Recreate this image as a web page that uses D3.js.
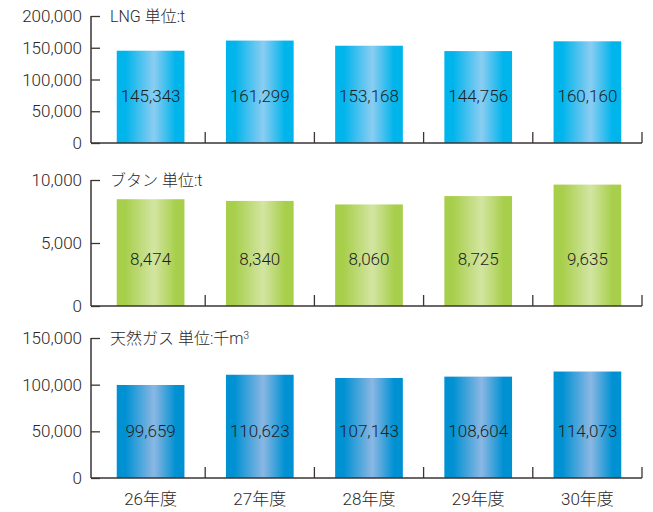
<!DOCTYPE html>
<html>
<head>
<meta charset="utf-8">
<script src="https://cdn.jsdelivr.net/npm/d3@7"></script>
<style>
  body { margin: 0; background: #fff; }
  text { font-family: Roboto, "Noto Sans CJK JP", sans-serif; fill: #2b2727; }
</style>
</head>
<body>
<svg id="chart" width="653" height="512"></svg>
<script>
var years = ["26年度", "27年度", "28年度", "29年度", "30年度"];
var lng = [145343, 161299, 153168, 144756, 160160];
var butane = [8474, 8340, 8060, 8725, 9635];
var gas = [99659, 110623, 107143, 108604, 114073];
var lngTicks = [0, 50000, 100000, 150000, 200000];
var butaneTicks = [0, 5000, 10000];
var gasTicks = [0, 50000, 100000, 150000];

var svg = d3.select("#chart"),
    left = 91, right = 642,
    fmt = d3.format(",");

// first category starts a little right of the y axis
var x = d3.scaleBand()
    .domain(years)
    .range([96, right])
    .paddingInner(0.38)
    .paddingOuter(0.19);

var step = x.step();

var defs = svg.append("defs");
function grad(id, edge, mid) {
  var g = defs.append("linearGradient").attr("id", id)
      .attr("x1", "0").attr("x2", "1").attr("y1", "0").attr("y2", "0");
  [[0, edge], [0.13, edge], [0.55, mid], [0.87, edge], [1, edge]].forEach(function(s) {
    g.append("stop").attr("offset", s[0]).attr("stop-color", s[1]);
  });
}
grad("gLng", "#00b4ec", "#8bcdf2");
grad("gBut", "#a8cf4c", "#d3e5a2");
grad("gGas", "#0091d3", "#8bb7e3");

var panels = [
  {values: lng, ticks: lngTicks, top: 16, bottom: 143, fill: "url(#gLng)", label: ["LNG 単位:t"]},
  {values: butane, ticks: butaneTicks, top: 180, bottom: 306, fill: "url(#gBut)", label: ["ブタン 単位:t"]},
  {values: gas, ticks: gasTicks, top: 338, bottom: 478, fill: "url(#gGas)", label: ["天然ガス 単位:千m", "3"]}
];

panels.forEach(function(p, pi) {
  var y = d3.scaleLinear()
      .domain([0, d3.max(p.ticks)])
      .range([p.bottom, p.top]);

  var g = svg.append("g");

  // bars
  g.selectAll(".bar")
      .data(p.values)
      .enter().append("rect")
      .attr("x", function(d, i) { return x(years[i]); })
      .attr("y", function(d) { return y(d); })
      .attr("width", x.bandwidth())
      .attr("height", function(d) { return y(0) - y(d); })
      .attr("fill", p.fill);

  g.selectAll(".val")
      .data(p.values)
      .enter().append("text")
      .attr("x", function(d, i) { return x(years[i]) + x.bandwidth() / 2; })
      .attr("y", y(0) - 47)
      .attr("dy", "0.35em")
      .attr("text-anchor", "middle")
      .style("font-size", "17px")
      .style("font-weight", 300)
      .style("fill", "#1e1e1e")
      .text(function(d) { return fmt(d); });

  // y axis
  var ya = g.append("g")
      .attr("transform", "translate(" + left + ",0)")
      .call(d3.axisRight(y).tickValues(p.ticks).tickSize(9).tickFormat(""));
  ya.select(".domain").remove();
  ya.selectAll("line").attr("stroke", "#3a3533").attr("stroke-width", 1.3);

  g.selectAll(".ylab")
      .data(p.ticks)
      .enter().append("text")
      .attr("x", left - 9)
      .attr("y", function(d) { return y(d); })
      .attr("dy", "0.36em")
      .attr("text-anchor", "end")
      .style("font-size", "17px")
      .style("font-weight", 300)
      .text(function(d) { return fmt(d); });

  g.append("line")
      .attr("x1", left).attr("x2", left)
      .attr("y1", p.top).attr("y2", p.bottom)
      .attr("stroke", "#3a3533").attr("stroke-width", 1.5);

  // x axis with separators between categories
  g.append("line")
      .attr("x1", left).attr("x2", right)
      .attr("y1", p.bottom).attr("y2", p.bottom)
      .attr("stroke", "#3a3533").attr("stroke-width", 1.5);

  g.selectAll(".sep")
      .data(years)
      .enter().append("line")
      .attr("x1", function(d) { return x(d) - step * x.paddingOuter() + step; })
      .attr("x2", function(d) { return x(d) - step * x.paddingOuter() + step; })
      .attr("y1", p.bottom)
      .attr("y2", p.bottom - 11)
      .attr("stroke", "#3a3533").attr("stroke-width", 1.3);

  // title
  var t = g.append("text")
      .attr("x", 110)
      .attr("y", p.top)
      .attr("dy", "0.36em")
      .style("font-size", "16px")
      .style("font-weight", 300)
      .text(p.label[0]);
  if (p.label[1]) {
    t.append("tspan")
        .attr("dy", "-0.5em")
        .style("font-size", "10px")
        .text(p.label[1]);
  }

  if (pi === 2) {
    g.selectAll(".xlab")
        .data(years)
        .enter().append("text")
        .attr("x", function(d) { return x(d) + x.bandwidth() / 2; })
        .attr("y", p.bottom + 21)
        .attr("dy", "0.36em")
        .attr("text-anchor", "middle")
        .style("font-size", "17px")
        .style("font-weight", 300)
        .text(function(d) { return d; });
  }
});
</script>
</body>
</html>
